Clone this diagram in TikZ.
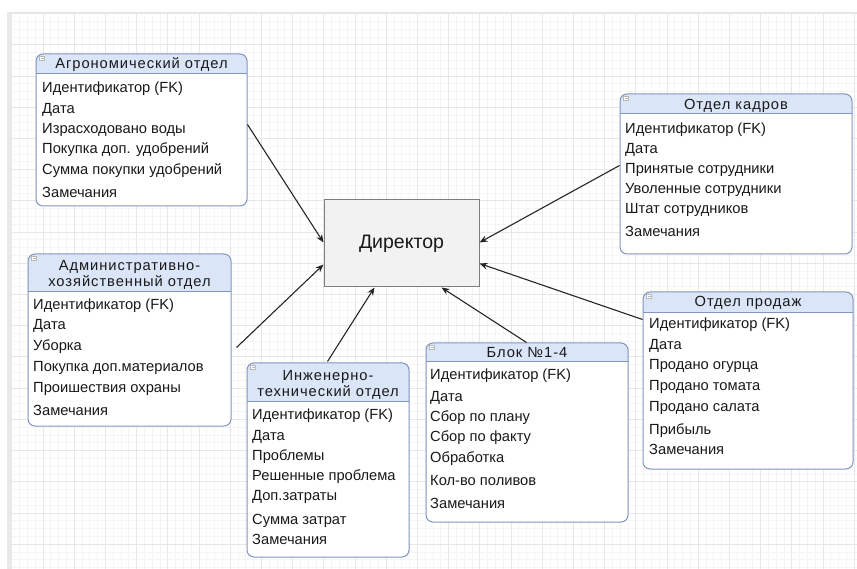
\documentclass[tikz,border=0pt]{standalone}
\usepackage{fontspec}
\setmainfont{Liberation Sans}
\newfontfamily\hdrfont[LetterSpace=6.5]{Liberation Sans}
\usetikzlibrary{arrows.meta,calc,fit}
\definecolor{tblborder}{RGB}{128,150,190}
\definecolor{hdrfill}{RGB}{218,229,248}
\definecolor{dirfill}{RGB}{242,242,242}
\definecolor{dirborder}{RGB}{125,125,125}
\definecolor{gridminor}{RGB}{245,245,245}
\definecolor{gridmajor}{RGB}{231,231,231}
\definecolor{txt}{RGB}{25,25,25}
\tikzset{
  tblbox/.style={draw=tblborder, line width=1pt, rounded corners=7pt, inner sep=0pt},
  row/.style={anchor=base west, inner sep=0pt, text=txt, font=\fontsize{14.7}{17}\selectfont},
  hdrtext/.style={anchor=base, inner sep=0pt, text=txt, font=\hdrfont\fontsize{14.7}{17}\selectfont},
  dirbox/.style={draw=dirborder, fill=dirfill, line width=1pt, inner sep=0pt, text=txt,
     font=\fontsize{19.5}{22}\selectfont},
  conn/.style={draw=black!85, line width=1.1pt, -{Stealth[length=8pt,width=6.5pt]}},
  icon/.style={draw=gray!55, fill=white, line width=0.5pt}
}
\newcommand\erbox[6]{%
  \begin{scope}
    \clip[rounded corners=7pt] (#2,#3) rectangle (#4,#5);
    \fill[white] (#2,#3) rectangle (#4,#5);
    \fill[hdrfill] (#2,#3) rectangle (#4,#6);
  \end{scope}
  \draw[tblborder, line width=1pt] (#2,#6) -- (#4,#6);
  \node[tblbox, fit={(#2,#3) (#4,#5)}] (#1) {};
  \draw[icon] ($(#1.north west)+(4,3)$) rectangle ($(#1.north west)+(9,7)$);
  \draw[gray!55, line width=0.5pt] ($(#1.north west)+(5,5)$) -- ($(#1.north west)+(8,5)$);
}
\begin{document}
\begin{tikzpicture}[x=1pt,y=-1pt]
\useasboundingbox (0,0) rectangle (857,569);
\fill[white] (0,0) rectangle (857,569);
% grid
\begin{scope}
  \clip (12,13) rectangle (857,569);
  \foreach \i in {0,...,108} \draw[gridminor, line width=1pt] ({11.8+7.8*\i},13) -- ({11.8+7.8*\i},569);
  \foreach \i in {0,...,72} \draw[gridminor, line width=1pt] (12,{13.8+7.8*\i}) -- (857,{13.8+7.8*\i});
  \foreach \i in {0,...,27} \draw[gridmajor, line width=1pt] ({11.8+31.2*\i},13) -- ({11.8+31.2*\i},569);
  \foreach \i in {0,...,18} \draw[gridmajor, line width=1pt] (12,{13.8+31.2*\i}) -- (857,{13.8+31.2*\i});
\end{scope}
\fill[gray!17] (7,12) rectangle (12,569);
\draw[gray!22, line width=1pt] (7,12.5) -- (857,12.5);

% director
\node[dirbox, minimum width=155pt, minimum height=87pt] (dir) at (401.5,243.5) {Директор};

% tables
\erbox{agro}{36}{54}{247}{206}{74}
\node[hdrtext] (agro-h) at (141.5,69) {Агрономический отдел};
\foreach \t/\y [count=\n] in {Идентификатор (FK)/93, Дата/114, Израсходовано воды/134,
   Покупка доп. удобрений/154, Сумма покупки удобрений/175, Замечания/198}
  \node[row] (agro-r\n) at (42,\y) {\t};

\erbox{kadr}{620}{94}{852}{254}{114}
\node[hdrtext] (kadr-h) at (736,110) {Отдел кадров};
\foreach \t/\y [count=\n] in {Идентификатор (FK)/134, Дата/154, Принятые сотрудники/174,
   Уволенные сотрудники/194, Штат сотрудников/214, Замечания/237}
  \node[row] (kadr-r\n) at (625,\y) {\t};

\erbox{admin}{28}{254}{231}{426}{292}
\node[hdrtext] (admin-h1) at (129.5,271) {Административно-};
\node[hdrtext] (admin-h2) at (129.5,287) {хозяйственный отдел};
\foreach \t/\y [count=\n] in {Идентификатор (FK)/310, Дата/330, Уборка/351,
   Покупка доп.материалов/371, Проишествия охраны/392, Замечания/415}
  \node[row] (admin-r\n) at (33,\y) {\t};

\erbox{ingen}{247}{363}{409}{557}{401}
\node[hdrtext] (ingen-h1) at (328,381) {Инженерно-};
\node[hdrtext] (ingen-h2) at (328,396) {технический отдел};
\foreach \t/\y [count=\n] in {Идентификатор (FK)/419, Дата/440, Проблемы/460,
   Решенные проблема/480, Доп.затраты/500, Сумма затрат/524, Замечания/544}
  \node[row] (ingen-r\n) at (252,\y) {\t};

\erbox{blok}{426}{343}{628}{522}{362}
\node[hdrtext] (blok-h) at (527,358) {Блок №1-4};
\foreach \t/\y [count=\n] in {Идентификатор (FK)/380, Дата/401, Сбор по плану/421,
   Сбор по факту/441, Обработка/462, Кол-во поливов/485, Замечания/508}
  \node[row] (blok-r\n) at (430,\y) {\t};

\erbox{prod}{643}{292}{853}{469}{313}
\node[hdrtext] (prod-h) at (748,307) {Отдел продаж};
\foreach \t/\y [count=\n] in {Идентификатор (FK)/329, Дата/350, Продано огурца/370,
   Продано томата/391, Продано салата/411, Прибыль/434, Замечания/454}
  \node[row] (prod-r\n) at (649,\y) {\t};

% connectors
\draw[conn] ($(agro.north east)+(0,71)$) -- ($(dir.north west)+(0,43)$);
\draw[conn] ($(admin.north east)+(5,94)$) -- ($(dir.north west)+(0,65)$);
\draw[conn] ($(ingen.north west)+(81,-1)$) -- ($(dir.south west)+(51,0)$);
\draw[conn] ($(blok.north west)+(101,0)$) -- ($(dir.south west)+(118,0)$);
\draw[conn] ($(kadr.north west)+(0,72)$) -- ($(dir.north east)+(0,43)$);
\draw[conn] ($(prod.north west)+(0,28)$) -- ($(dir.north east)+(0,64)$);
\end{tikzpicture}
\end{document}
